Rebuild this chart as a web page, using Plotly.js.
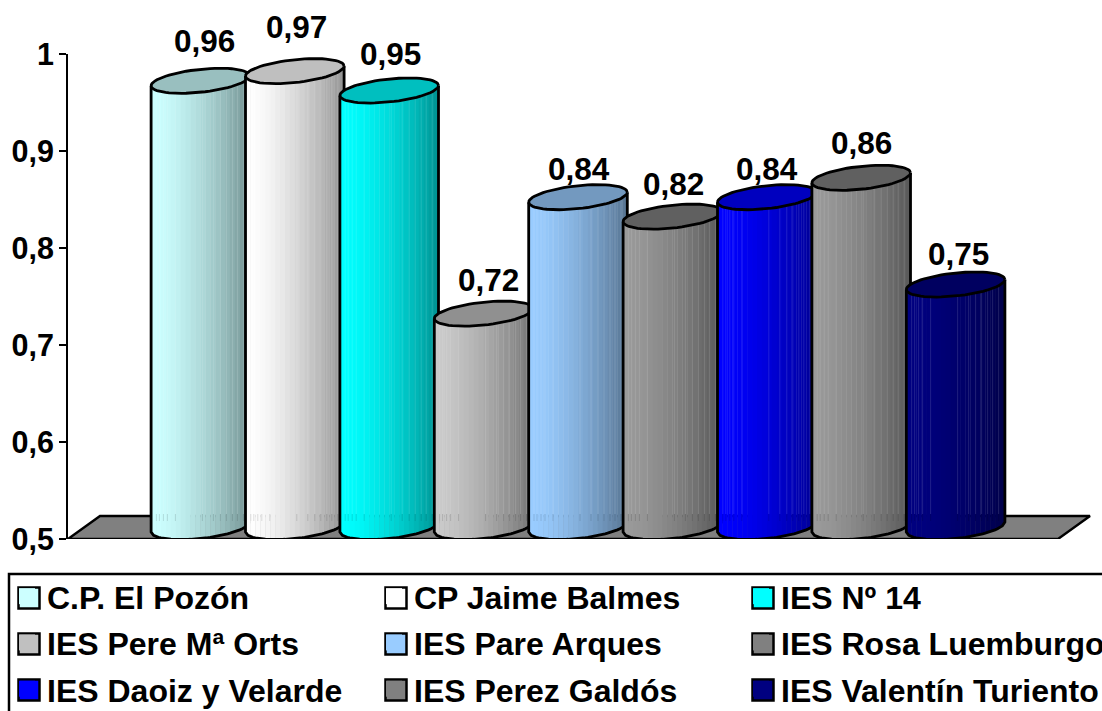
<!DOCTYPE html>
<html>
<head>
<meta charset="utf-8">
<script src="https://cdn.plot.ly/plotly-3.0.1.min.js"></script>
<style>html,body{margin:0;padding:0;background:#fff;overflow:hidden;width:1102px;height:711px}</style>
</head>
<body>
<div id="chart" style="width:1240px;height:760px"></div>
<script>
// ---- data ----
const schools = ["C.P. El Pozón","CP Jaime Balmes","IES Nº 14","IES Pere Mª Orts","IES Pare Arques","IES Rosa Luemburgo","IES Daoiz y Velarde","IES Perez Galdós","IES Valentín Turiento"];
const values = [0.96,0.97,0.95,0.72,0.84,0.82,0.84,0.86,0.75];
const barColors = [[204,255,255],[255,255,255],[0,255,255],[192,192,192],[153,204,255],[128,128,128],[0,0,255],[128,128,128],[0,0,128]];
const yTicks = [0.5,0.6,0.7,0.8,0.9,1];
const yTickLabels = ["0,5","0,6","0,7","0,8","0,9","1"];

// ---- layout constants (pixels) ----
const PX_LEFT=68, PX_RIGHT=1230, PX_TOP=54, PX_BOTTOM=539, W=1240, H=760;
const PX_PER_CAT=94.4, PX_CX0=200.4, PX_PER_Y=(PX_BOTTOM-PX_TOP)/0.5;
const dx=p=>p/PX_PER_CAT, dy=p=>p/PX_PER_Y;
const xRange=[(PX_LEFT-PX_CX0)/PX_PER_CAT,(PX_RIGHT-PX_CX0)/PX_PER_CAT];
const paperX=p=>(p-PX_LEFT)/(PX_RIGHT-PX_LEFT), paperY=p=>(PX_BOTTOM-p)/(PX_BOTTOM-PX_TOP);
const HALF=49.3, TILT=5, MINOR=11.5, DEPTH=12, EDGE=2.8;
const labelDX=[4,1.5,1,5,0.5,1,0.5,0.5,3], labelDY=[51.8,56,48.5,45.6,40,44.6,40,46.8,42.5];
const streaks=[-44,-41,-37,-33,-25,2,13,20,26,32,37,43];
const startShade=[1,1,1,1.05,1,1.2,1,1.2,1];
const SLICES=20;

const rgb=(c,k)=>`rgb(${c.map(v=>Math.min(255,Math.round(v*k))).join(",")})`;
const rgbLight=(c,k,t)=>`rgb(${c.map(v=>{const b=Math.min(255,v*k);return Math.round(b+(255-b)*t);}).join(",")})`;
const shadeOf=(i,t)=>startShade[i]*(1-0.41*Math.pow(t,1.5));

const traces=[];
// floor
const floorPx=[[68,539],[100,516],[1090,516],[1058,539],[68,539]];
traces.push({type:"scatter",mode:"lines",fill:"toself",fillcolor:"#808080",
  x:floorPx.map(p=>(p[0]-PX_CX0)/PX_PER_CAT),y:floorPx.map(p=>0.5+(PX_BOTTOM-p[1])/PX_PER_Y),
  line:{color:"#000",width:2.4},hoverinfo:"skip",showlegend:false});

const front=(cy,p)=>cy+dy(TILT*p/HALF)-dy(MINOR*Math.sqrt(Math.max(0,1-p*p/(HALF*HALF))));

values.forEach((v,i)=>{
  const c=barColors[i], cyTop=v+dy(DEPTH), cyBot=0.5+dy(DEPTH);
  for(let s=0;s<SLICES;s++){
    const p0=-HALF+2*HALF*s/SLICES, p1=-HALF+2*HALF*(s+1)/SLICES+0.4;
    const xs=[],ys=[];
    for(let k=0;k<=3;k++){const p=p0+(p1-p0)*k/3;xs.push(i+dx(p));ys.push(front(cyBot,p));}
    for(let k=3;k>=0;k--){const p=p0+(p1-p0)*k/3;xs.push(i+dx(p));ys.push(front(cyTop,p));}
    xs.push(xs[0]);ys.push(ys[0]);
    traces.push({type:"scatter",mode:"lines",fill:"toself",fillcolor:rgb(c,shadeOf(i,s/(SLICES-1))),x:xs,y:ys,
      line:{width:0},hoverinfo:"skip",showlegend:false});
  }
  // faint vertical streaks: lighter above the floor's back edge, darker stubs below it
  streaks.forEach(p=>{
    const t=(p+HALF)/(2*HALF), k=shadeOf(i,t), xp=i+dx(p);
    traces.push({type:"scatter",mode:"lines",x:[xp,xp],y:[front(cyTop,p),0.5+dy(PX_BOTTOM-514)],
      line:{color:rgbLight(c,k,0.12),width:1},hoverinfo:"skip",showlegend:false});
    traces.push({type:"scatter",mode:"lines",x:[xp,xp],y:[0.5+dy(PX_BOTTOM-514),0.5+dy(PX_BOTTOM-521)],
      line:{color:rgb(c,k*0.88),width:1},hoverinfo:"skip",showlegend:false});
  });
  // outline
  const ox=[],oy=[];
  ox.push(i+dx(-HALF));oy.push(front(cyTop,-HALF));
  for(let k=0;k<=40;k++){const p=-HALF+2*HALF*k/40;ox.push(i+dx(p));oy.push(front(cyBot,p));}
  ox.push(i+dx(HALF));oy.push(front(cyTop,HALF));
  traces.push({type:"scatter",mode:"lines",x:ox,y:oy,line:{color:"#000",width:EDGE},hoverinfo:"skip",showlegend:false});
  // top ellipse
  const ex=[],ey=[];
  for(let k=0;k<=64;k++){
    const t=2*Math.PI*k/64, p=HALF*Math.cos(t);
    ex.push(i+dx(p));ey.push(cyTop+dy(TILT*Math.cos(t))+dy(MINOR*Math.sin(t)));
  }
  traces.push({type:"scatter",mode:"lines",fill:"toself",fillcolor:rgb(c,0.75),x:ex,y:ey,
    line:{color:"#000",width:EDGE},hoverinfo:"skip",showlegend:false});
});

// legend keys (row order in the reference's legend)
const LEG_FONT=32;
schools.forEach((name,i)=>{
  traces.push({type:"scatter",mode:"markers",x:[null],y:[null],name:`<span style="font-size:${LEG_FONT}px">${name}</span>`,
    marker:{symbol:"square",size:16,color:rgb(barColors[i],1),line:{color:rgb(barColors[i],1),width:0}},showlegend:true,hoverinfo:"skip"});
});

const FONT="Liberation Sans, Arial, sans-serif";
const annotations=values.map((v,i)=>({
  x:i,y:v,xref:"x",yref:"y",text:v.toFixed(2).replace(".",","),showarrow:false,
  xshift:labelDX[i],yshift:labelDY[i],xanchor:"center",yanchor:"middle",
  font:{family:FONT,size:31.5,color:"#000",weight:"bold"}
}));

// legend frame and the larger key squares behind the legend's own markers
const shapes=[{type:"rect",xref:"paper",yref:"paper",x0:paperX(9),x1:paperX(1220),y0:paperY(574),y1:paperY(750),
  line:{color:"#000",width:2.5},fillcolor:"#fff",layer:"above"}];
schools.forEach((name,i)=>{
  const col=i%3,row=Math.floor(i/3),sx=18.5+367*col,sy=587.5+46*row;
  shapes.push({type:"rect",xref:"paper",yref:"paper",x0:paperX(sx),x1:paperX(sx+21),y0:paperY(sy),y1:paperY(sy+21),
    line:{color:"#000",width:2.5},fillcolor:rgb(barColors[i],1),layer:"above"});
});

const layout={
  width:W,height:H,paper_bgcolor:"#fff",plot_bgcolor:"#fff",
  margin:{l:PX_LEFT,r:W-PX_RIGHT,t:PX_TOP,b:H-PX_BOTTOM,pad:0,autoexpand:false},
  separators:",.",
  xaxis:{range:xRange,visible:false,showgrid:false,zeroline:false,fixedrange:true},
  yaxis:{range:[0.5,1],tickmode:"array",tickvals:yTicks,ticktext:yTickLabels,showgrid:false,zeroline:false,
    showline:true,linecolor:"#000",linewidth:2,ticks:"outside",ticklen:7,tickwidth:2,tickcolor:"#000",
    ticklabelstandoff:-1,
    tickfont:{family:FONT,size:30.5,color:"#000",weight:"bold"},fixedrange:true},
  annotations,shapes,
  showlegend:true,
  legend:{orientation:"h",x:paperX(7),xanchor:"left",y:paperY(568),yanchor:"top",
    traceorder:"normal",itemsizing:"trace",entrywidth:322,entrywidthmode:"pixels",
    borderwidth:0,bgcolor:"rgba(0,0,0,0)",
    font:{family:FONT,size:33.3,color:"#000",weight:"bold"},itemclick:false,itemdoubleclick:false}
};
Plotly.newPlot("chart",traces,layout,{displayModeBar:false,staticPlot:true});
</script>
</body>
</html>
